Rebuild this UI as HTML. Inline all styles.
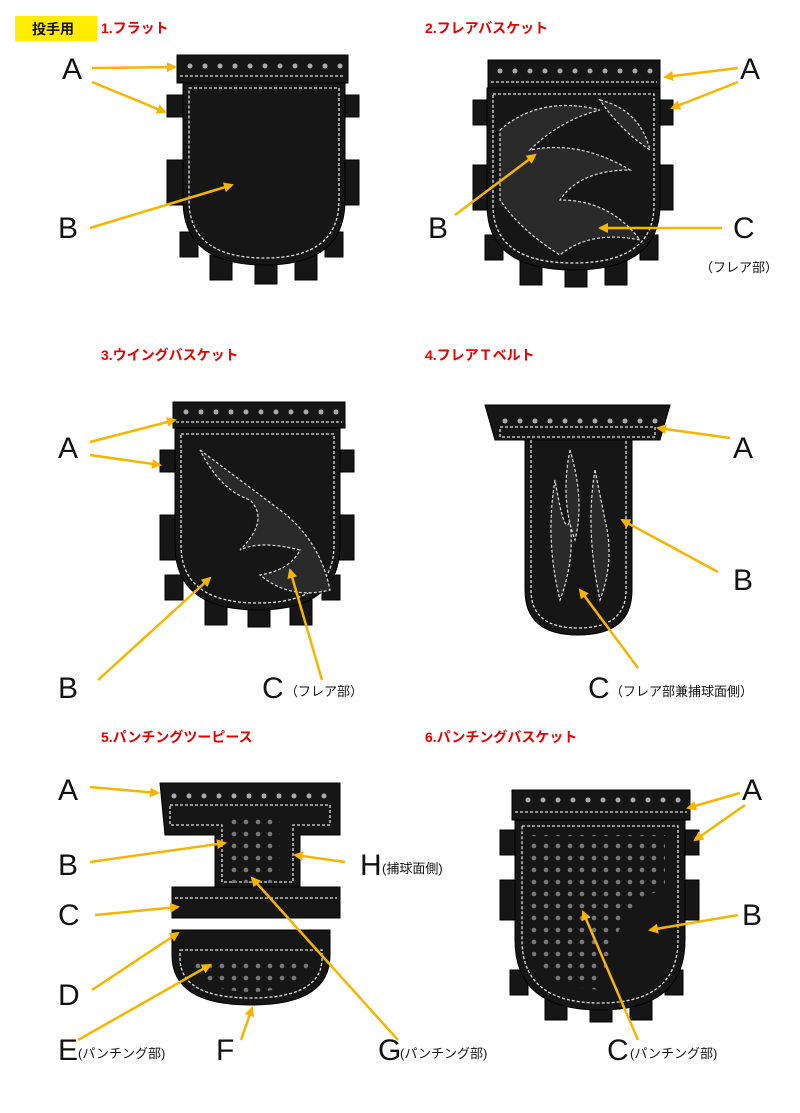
<!DOCTYPE html>
<html><head><meta charset="utf-8"><style>
html,body{margin:0;padding:0;background:#fff;}
body{width:800px;height:1113px;position:relative;overflow:hidden;font-family:"Liberation Sans","Noto Sans CJK JP",sans-serif;}
</style></head><body>
<svg width="800" height="1113" viewBox="0 0 800 1113" xmlns="http://www.w3.org/2000/svg" style="position:absolute;left:0;top:0">
<defs>
<marker id="ah" markerWidth="10" markerHeight="10" refX="8" refY="5" orient="auto" markerUnits="userSpaceOnUse">
<path d="M0,0 L10,5 L0,10 z" fill="#f7b500"/></marker>
<pattern id="dots" width="12" height="12" patternUnits="userSpaceOnUse"><circle cx="6" cy="6" r="2.3" fill="#777"/></pattern>
</defs>
<style>
.lt{fill:#161616;stroke:#000;stroke-width:1}
.st{fill:none;stroke:#ddd;stroke-width:1.3;stroke-dasharray:3 2}
.ar{stroke:#f7b500;stroke-width:2.5;fill:none;marker-end:url(#ah)}
.L{font-family:"Liberation Sans",sans-serif;font-size:30px;fill:#111}
.s{font-family:"Liberation Sans","Noto Sans CJK JP",sans-serif;font-size:13px;fill:#111}
.t{font-family:"Liberation Sans","Noto Sans CJK JP",sans-serif;font-size:14px;font-weight:bold;fill:#e60000}
.fl{fill:#2a2a2a;stroke:#ddd;stroke-width:1.2;stroke-dasharray:3 2}
</style>
<rect x="15" y="16" width="82" height="25" fill="#ffec00"/>
<text x="32" y="34" font-size="14" font-weight="bold" fill="#111" font-family="Liberation Sans,Noto Sans CJK JP,sans-serif">投手用</text>
<text class="t" x="101" y="33">1.フラット</text>
<text class="t" x="425" y="33">2.フレアバスケット</text>
<text class="t" x="101" y="360">3.ウイングバスケット</text>
<text class="t" x="425" y="360">4.フレアＴベルト</text>
<text class="t" x="101" y="742">5.パンチングツーピース</text>
<text class="t" x="425" y="742">6.パンチングバスケット</text>

<!-- piece 1 -->
<g>
<rect class="lt" x="167" y="95" width="18" height="22"/><rect class="lt" x="167" y="160" width="18" height="45"/><rect class="lt" x="343" y="95" width="16" height="22"/><rect class="lt" x="343" y="160" width="16" height="45"/>
<rect class="lt" x="210" y="255" width="22" height="25"/><rect class="lt" x="255" y="262" width="22" height="22"/><rect class="lt" x="295" y="255" width="22" height="25"/><rect class="lt" x="325" y="232" width="18" height="25"/><rect class="lt" x="180" y="232" width="18" height="25"/>
<path class="lt" d="M183,82 H345 V200 Q345,265 265,265 Q183,265 183,200 Z"/>
<path class="st" d="M189,88 H339 V200 Q339,258 265,258 Q189,258 189,200 Z"/>
<rect class="lt" x="177" y="55" width="171" height="28"/>
<line class="st" x1="180" y1="76" x2="345" y2="76"/>
</g>
<!-- piece 2 -->
<g>
<rect class="lt" x="473" y="100" width="18" height="25"/><rect class="lt" x="473" y="165" width="18" height="45"/><rect class="lt" x="657" y="100" width="16" height="25"/><rect class="lt" x="657" y="165" width="16" height="45"/>
<rect class="lt" x="520" y="260" width="22" height="25"/><rect class="lt" x="565" y="265" width="22" height="22"/><rect class="lt" x="605" y="260" width="22" height="25"/><rect class="lt" x="640" y="235" width="18" height="25"/><rect class="lt" x="485" y="235" width="18" height="25"/>
<path class="lt" d="M487,88 H660 V205 Q660,270 573,270 Q487,270 487,205 Z"/>
<path class="st" d="M493,94 H654 V205 Q654,263 573,263 Q493,263 493,205 Z"/>
<path class="fl" d="M500,130 Q540,95 600,110 Q560,120 530,150 Q580,140 630,170 Q580,170 560,200 Q610,200 640,240 Q590,230 560,255 Q520,230 500,200 Z"/>
<path class="fl" d="M600,100 Q640,110 650,150 Q620,130 600,100 Z"/>
<rect class="lt" x="488" y="60" width="172" height="28"/>
<line class="st" x1="491" y1="82" x2="657" y2="82"/>
</g>
<!-- piece 3 -->
<g>
<rect class="lt" x="160" y="450" width="18" height="22"/><rect class="lt" x="160" y="515" width="18" height="45"/><rect class="lt" x="338" y="450" width="16" height="22"/><rect class="lt" x="338" y="515" width="16" height="45"/>
<rect class="lt" x="205" y="600" width="22" height="25"/><rect class="lt" x="248" y="605" width="22" height="22"/><rect class="lt" x="290" y="600" width="22" height="25"/><rect class="lt" x="322" y="575" width="18" height="25"/><rect class="lt" x="165" y="575" width="18" height="25"/>
<path class="lt" d="M175,428 H340 V545 Q340,610 258,610 Q175,610 175,545 Z"/>
<path class="st" d="M181,434 H334 V545 Q334,603 258,603 Q181,603 181,545 Z"/>
<path class="fl" d="M200,450 Q240,480 280,510 Q320,540 330,590 Q290,600 260,575 Q290,570 300,550 Q260,540 240,550 Q270,520 250,500 Q220,490 200,450 Z"/>
<rect class="lt" x="173" y="402" width="172" height="26"/>
<line class="st" x1="176" y1="422" x2="342" y2="422"/>
</g>
<!-- piece 4 -->
<g>
<path class="lt" d="M485,405 H670 L660,440 H495 Z"/>
<rect class="st" x="500" y="427" width="155" height="10"/>
<path class="lt" d="M525,440 H632 V590 Q632,635 578,635 Q525,635 525,590 Z"/>
<path class="st" d="M531,440 V590 Q531,628 578,628 Q626,628 626,590 V440"/>
<path class="fl" d="M555,480 Q545,540 560,600 Q575,560 570,520 Q565,540 555,480 Z"/>
<path class="fl" d="M595,470 Q585,530 600,600 Q615,560 605,520 Z"/>
<path class="fl" d="M570,450 Q560,500 575,540 Q585,500 570,450 Z"/>
</g>
<!-- piece 5 -->
<g>
<path class="lt" d="M160,783 H340 V835 H300 V888 H215 V835 H165 Z"/>
<path class="st" d="M170,805 H330 V825 H293 V882 H222 V825 H170 Z"/>
<rect x="230" y="815" width="50" height="68" fill="url(#dots)"/>
<rect class="lt" x="172" y="887" width="168" height="31"/>
<line class="st" x1="175" y1="898" x2="337" y2="898"/>
<path class="lt" d="M172,930 H330 V955 Q330,1005 251,1005 Q172,1005 172,955 Z"/>
<path class="st" d="M180,950 H322 V958 Q322,998 251,998 Q180,998 180,958 Z"/>
<path d="M190,958 H312 Q300,992 251,992 Q200,992 190,958 Z" fill="url(#dots)"/>
</g>
<!-- piece 6 -->
<g>
<rect class="lt" x="500" y="830" width="18" height="25"/><rect class="lt" x="500" y="880" width="18" height="40"/><rect class="lt" x="683" y="830" width="16" height="25"/><rect class="lt" x="683" y="880" width="16" height="40"/>
<rect class="lt" x="545" y="995" width="22" height="25"/><rect class="lt" x="590" y="1000" width="22" height="22"/><rect class="lt" x="630" y="995" width="22" height="25"/><rect class="lt" x="665" y="970" width="18" height="25"/><rect class="lt" x="510" y="970" width="18" height="25"/>
<path class="lt" d="M515,820 H685 V940 Q685,1010 600,1010 Q515,1010 515,940 Z"/>
<path class="st" d="M522,826 H678 V940 Q678,1003 600,1003 Q522,1003 522,940 Z"/>
<path d="M530,835 H665 V890 Q620,895 600,990 Q530,985 530,940 Z" fill="url(#dots)"/>
<rect class="lt" x="512" y="790" width="178" height="30"/>
<line class="st" x1="515" y1="812" x2="687" y2="812"/>
</g>

<!-- strap holes -->
<g fill="#aaa">
<g id="h1"><circle cx="190" cy="66" r="2.5"/><circle cx="205" cy="66" r="2.5"/><circle cx="220" cy="66" r="2.5"/><circle cx="235" cy="66" r="2.5"/><circle cx="250" cy="66" r="2.5"/><circle cx="265" cy="66" r="2.5"/><circle cx="280" cy="66" r="2.5"/><circle cx="295" cy="66" r="2.5"/><circle cx="310" cy="66" r="2.5"/><circle cx="325" cy="66" r="2.5"/><circle cx="340" cy="66" r="2.5"/></g>
<use href="#h1" x="310" y="5"/><use href="#h1" x="-4" y="346"/><use href="#h1" x="315" y="355"/><use href="#h1" x="-16" y="730"/><use href="#h1" x="338" y="734"/>
</g>

<!-- arrows -->
<line class="ar" x1="92" y1="68" x2="175" y2="67"/>
<line class="ar" x1="92" y1="82" x2="165" y2="112"/>
<line class="ar" x1="90" y1="228" x2="232" y2="185"/>
<line class="ar" x1="738" y1="68" x2="665" y2="77"/>
<line class="ar" x1="738" y1="82" x2="672" y2="108"/>
<line class="ar" x1="455" y1="215" x2="535" y2="155"/>
<line class="ar" x1="722" y1="228" x2="600" y2="228"/>
<line class="ar" x1="90" y1="442" x2="175" y2="420"/>
<line class="ar" x1="90" y1="455" x2="160" y2="465"/>
<line class="ar" x1="98" y1="680" x2="210" y2="578"/>
<line class="ar" x1="322" y1="680" x2="290" y2="570"/>
<line class="ar" x1="730" y1="438" x2="658" y2="428"/>
<line class="ar" x1="718" y1="572" x2="622" y2="520"/>
<line class="ar" x1="638" y1="668" x2="580" y2="590"/>
<line class="ar" x1="90" y1="787" x2="158" y2="793"/>
<line class="ar" x1="90" y1="862" x2="225" y2="843"/>
<line class="ar" x1="95" y1="915" x2="178" y2="907"/>
<line class="ar" x1="92" y1="990" x2="178" y2="933"/>
<line class="ar" x1="78" y1="1040" x2="210" y2="965"/>
<line class="ar" x1="241" y1="1040" x2="252" y2="1008"/>
<line class="ar" x1="398" y1="1040" x2="252" y2="878"/>
<line class="ar" x1="345" y1="862" x2="295" y2="855"/>
<line class="ar" x1="740" y1="793" x2="688" y2="808"/>
<line class="ar" x1="745" y1="805" x2="695" y2="840"/>
<line class="ar" x1="738" y1="915" x2="650" y2="930"/>
<line class="ar" x1="638" y1="1040" x2="583" y2="912"/>

<!-- labels -->
<text class="L" x="62" y="79">A</text><text class="L" x="58" y="238">B</text>
<text class="L" x="740" y="79">A</text><text class="L" x="428" y="238">B</text><text class="L" x="733" y="238">C</text>
<text class="s" x="700" y="272">（フレア部）</text>
<text class="L" x="58" y="458">A</text><text class="L" x="58" y="698">B</text><text class="L" x="262" y="698">C</text>
<text class="s" x="285" y="696">（フレア部）</text>
<text class="L" x="733" y="458">A</text><text class="L" x="733" y="590">B</text><text class="L" x="588" y="698">C</text>
<text class="s" x="610" y="696">（フレア部兼捕球面側）</text>
<text class="L" x="58" y="800">A</text><text class="L" x="58" y="875">B</text><text class="L" x="58" y="925">C</text><text class="L" x="58" y="1005">D</text>
<text class="L" x="58" y="1060">E</text><text class="s" x="78" y="1058">(パンチング部)</text>
<text class="L" x="216" y="1060">F</text>
<text class="L" x="378" y="1060">G</text><text class="s" x="400" y="1058">(パンチング部)</text>
<text class="L" x="360" y="875">H</text><text class="s" x="382" y="873">(捕球面側)</text>
<text class="L" x="742" y="800">A</text><text class="L" x="742" y="925">B</text>
<text class="L" x="607" y="1060">C</text><text class="s" x="630" y="1058">(パンチング部)</text>
</svg>
</body></html>
